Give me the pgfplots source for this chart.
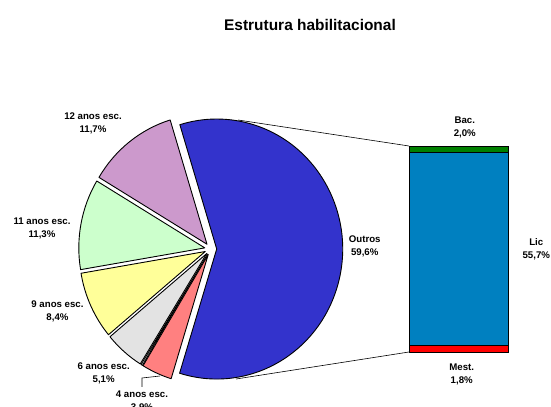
\documentclass[border=0pt]{standalone}
\usepackage{pgfplots}
\pgfplotsset{compat=1.18}
\usepackage{fontspec}
\setmainfont{Liberation Sans}
\definecolor{outros}{HTML}{3333CC}
\definecolor{a12}{HTML}{CC99CC}
\definecolor{a11}{HTML}{CCFFCC}
\definecolor{a9}{HTML}{FFFF99}
\definecolor{a6}{HTML}{E3E3E3}
\definecolor{a4}{HTML}{FF8080}
\definecolor{bac}{HTML}{008000}
\definecolor{lic}{HTML}{0080C0}
\definecolor{mest}{HTML}{FF0000}
% slice: #1 start (cumulative %), #2 value (%), #3 colour, #4 explosion
\newcommand{\slice}[4]{%
 \pgfplotsextra{%
  \pgfmathsetmacro\sa{107.0+(360/100.2)*(#1)}%
  \pgfmathsetmacro\ea{107.0+(360/100.2)*(#1+#2)}%
  \pgfmathsetmacro\ma{(\sa+\ea)/2}%
  \pgfmathsetmacro\cx{210.7+#4*cos(\ma)}%
  \pgfmathsetmacro\cy{158+#4*sin(\ma)}%
  \filldraw[fill=#3,draw=black,line width=0.9bp,line join=round]
    (axis cs:\cx,\cy) -- ++(\sa:126bp and 130bp)
    arc[start angle=\sa,end angle=\ea,x radius=126bp,y radius=130bp] -- cycle;}}
\newcommand{\lab}{\bfseries\fontsize{9.7}{13}\selectfont}
\begin{document}
\begin{tikzpicture}
\clip (0,0) rectangle (551bp,407bp);
\begin{axis}[at={(0,0)},anchor=south west,scale only axis,
  width=551bp,height=407bp,xmin=0,xmax=551,ymin=0,ymax=407,
  hide axis,clip=false]
\draw[line width=0.6bp] (axis cs:238,287) -- (axis cs:409,261);
\draw[line width=0.6bp] (axis cs:236,28) -- (axis cs:409,55);
\draw[line width=0.6bp] (axis cs:142,20) -- (axis cs:142,29) -- (axis cs:160,31);
% pie: Outros 59.6, 12 anos 11.7, 11 anos 11.3, 9 anos 8.4, 6 anos 5.1, (sliver), 4 anos 3.9
\slice{-59.6}{59.6}{outros}{6}
\slice{0}{11.7}{a12}{6}
\slice{11.7}{11.3}{a11}{6}
\slice{23.0}{8.4}{a9}{6}
\slice{31.4}{5.1}{a6}{6}
\slice{36.5}{0.2}{white}{6}
\slice{36.7}{3.9}{a4}{6}
\node[font=\bfseries\fontsize{15.5}{18}\selectfont] at (axis cs:310,382) {Estrutura habilitacional};
\node[font=\lab,align=center] at (axis cs:93,283.5) {12 anos esc.\\11,7\%};
\node[font=\lab,align=center] at (axis cs:42,178.5) {11 anos esc.\\11,3\%};
\node[font=\lab,align=center] at (axis cs:57.5,95.5) {9 anos esc.\\8,4\%};
\node[font=\lab,align=center] at (axis cs:103.7,33.5) {6 anos esc.\\5,1\%};
\node[font=\lab,align=center] at (axis cs:142,5.5) {4 anos esc.\\3,9\%};
\node[font=\lab,align=center] at (axis cs:364.7,160.5) {Outros\\59,6\%};
\node[font=\lab,align=center] at (axis cs:464.8,279.5) {Bac.\\2,0\%};
\node[font=\lab,align=center] at (axis cs:536.3,157.7) {Lic\\55,7\%};
\node[font=\lab,align=center] at (axis cs:461.7,33) {Mest.\\1,8\%};
\end{axis}
\begin{axis}[at={(409bp,55bp)},anchor=south west,scale only axis,
  width=99bp,height=206bp,xmin=-0.5,xmax=0.5,ymin=0,ymax=59.5,
  hide axis,ybar stacked,bar width=99bp,clip=false]
\addplot[fill=mest,draw=black,line width=0.9bp] coordinates {(0,1.8)};
\addplot[fill=lic,draw=black,line width=0.9bp] coordinates {(0,55.7)};
\addplot[fill=bac,draw=black,line width=0.9bp] coordinates {(0,2.0)};
\end{axis}
\end{tikzpicture}
\end{document}
